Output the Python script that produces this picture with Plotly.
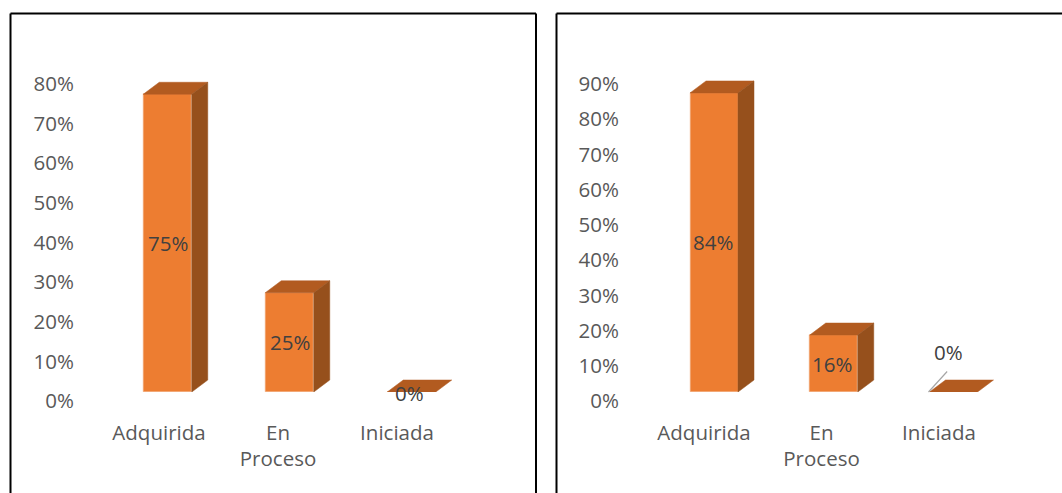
import plotly.graph_objects as go

categories = ["Adquirida", "En<br>Proceso", "Iniciada"]
values_left = [75, 25, 0]
values_right = [84, 16, 0]
ticks_left = [0, 10, 20, 30, 40, 50, 60, 70, 80]
ticks_right = [0, 10, 20, 30, 40, 50, 60, 70, 80, 90]

W, H = 1062, 493
FRONT, TOP, SIDE = "#ED7D31", "#B25B20", "#96501C"
FONT = "Open Sans"
FS = 20.5


def px(v):
    return v / W


def py(v):
    return 1 - v / H


fig = go.Figure()
layout = {}


def panel(n, values, ticks, frame, c0, step, barw, unit, base_px, dx, dy,
          lab0, labstep, y0, ytop, ymax, axis_x, label_specs):
    sx = "" if n == 0 else str(2 * n + 1)
    lx = str(2 * n + 2)
    xa, ya = "x" + sx, "y" + sx
    xb, yb = "x" + lx, "y" + lx
    # data axes (bars)
    layout["xaxis" + sx] = dict(domain=[px(frame[0]), px(frame[1])],
                                range=[(frame[0] - c0) / step, (frame[1] - c0) / step],
                                visible=False, anchor=ya, fixedrange=True, automargin=False)
    layout["yaxis" + sx] = dict(domain=[py(base_px), py(14)],
                                range=[0, (base_px - 14) / unit],
                                visible=False, anchor=xa, fixedrange=True, automargin=False)
    xs = list(range(len(values)))
    hw = barw / step / 2
    ddx = dx / step
    ddy = dy / unit
    # front faces
    fig.add_trace(go.Bar(x=xs, y=values, width=barw / step, xaxis=xa, yaxis=ya,
                         marker=dict(color=FRONT, line=dict(color="#F3B58C", width=0.6)),
                         showlegend=False, hoverinfo="skip"))
    for x, v in zip(xs, values):
        # top face
        fig.add_trace(go.Scatter(
            x=[x - hw, x + hw, x + hw + ddx, x - hw + ddx, x - hw],
            y=[v, v, v + ddy, v + ddy, v], fill="toself", fillcolor=TOP, mode="lines",
            line=dict(color=TOP, width=0.5), xaxis=xa, yaxis=ya, showlegend=False, hoverinfo="skip"))
        # side face
        if v > 0:
            fig.add_trace(go.Scatter(
                x=[x + hw, x + hw + ddx, x + hw + ddx, x + hw, x + hw],
                y=[0, ddy, v + ddy, v, 0], fill="toself", fillcolor=SIDE, mode="lines",
                line=dict(color=SIDE, width=0.5), xaxis=xa, yaxis=ya, showlegend=False, hoverinfo="skip"))
    # label axes
    xleft = axis_x
    xright = frame[1]
    layout["xaxis" + lx] = dict(domain=[px(xleft), px(xright)],
                                range=[(xleft - lab0) / labstep, (xright - lab0) / labstep],
                                tickmode="array", tickvals=xs, ticktext=categories,
                                tickfont=dict(family=FONT, size=FS, color="#595959"),
                                showgrid=False, zeroline=False, showline=False, ticks="outside",
                                ticklen=13, tickcolor="rgba(0,0,0,0)", anchor=yb, tickangle=0,
                                fixedrange=True, automargin=False)
    layout["yaxis" + lx] = dict(domain=[py(y0), py(14)],
                                range=[0, (y0 - 14) / ((y0 - ytop) / ymax)],
                                tickmode="array", tickvals=ticks, ticktext=[f"{t}%" for t in ticks],
                                tickfont=dict(family=FONT, size=FS, color="#595959"),
                                showgrid=False, zeroline=False, showline=False, ticks="",
                                anchor=xb, fixedrange=True, automargin=False)
    fig.add_trace(go.Scatter(x=xs, y=[0] * len(xs), mode="markers", marker=dict(opacity=0),
                             xaxis=xb, yaxis=yb, showlegend=False, hoverinfo="skip"))
    # data labels
    for x, v, (xs_, ys_) in zip(xs, values, label_specs):
        fig.add_annotation(x=x, y=v / 2, xref=xa, yref=ya, text=f"{v}%", showarrow=False,
                           font=dict(family=FONT, size=FS, color="#404040"), xshift=xs_, yshift=ys_)
    # frame
    for (x0, y0_, x1, y1) in [(frame[0], 13.5, frame[0], H), (frame[0], 13.5, frame[1], 13.5)] + (
            [(frame[1], 13.5, frame[1], H)] if n == 0 else []):
        fig.add_shape(type="line", xref="paper", yref="paper", x0=px(x0), x1=px(x1), y0=py(y0_), y1=py(y1),
                      line=dict(color="#000000", width=2))


panel(0, values_left, ticks_left, (10.5, 536), 167.5, 122, 48.5, 3.97, 392, 16, 12,
      159, 119, 401, 84, 80, 75,
      [(0, 0), (0, 0), (-2, -1)])
panel(1, values_right, ticks_right, (556.5, 1062), 714, 119.75, 48, 3.56, 392, 16, 12,
      704, 117.5, 401, 84, 90, 620,
      [(-1, 0), (-2, 0), (-5, 40)])

fig.add_annotation(x=2, y=0, xref="x3", yref="y3", xshift=-25, text="", showarrow=True, arrowhead=0,
                   arrowwidth=1.2, arrowcolor="#A6A6A6", ax=20, ay=-22, standoff=0)

fig.update_layout(width=W, height=H, margin=dict(l=0, r=0, t=0, b=0), paper_bgcolor="white",
                  plot_bgcolor="rgba(0,0,0,0)", bargap=0, showlegend=False, **layout)
fig.write_html("out.html", post_script="document.body.style.margin='0';window.scrollTo(0,0);",
               config={"responsive": False, "displayModeBar": False})
